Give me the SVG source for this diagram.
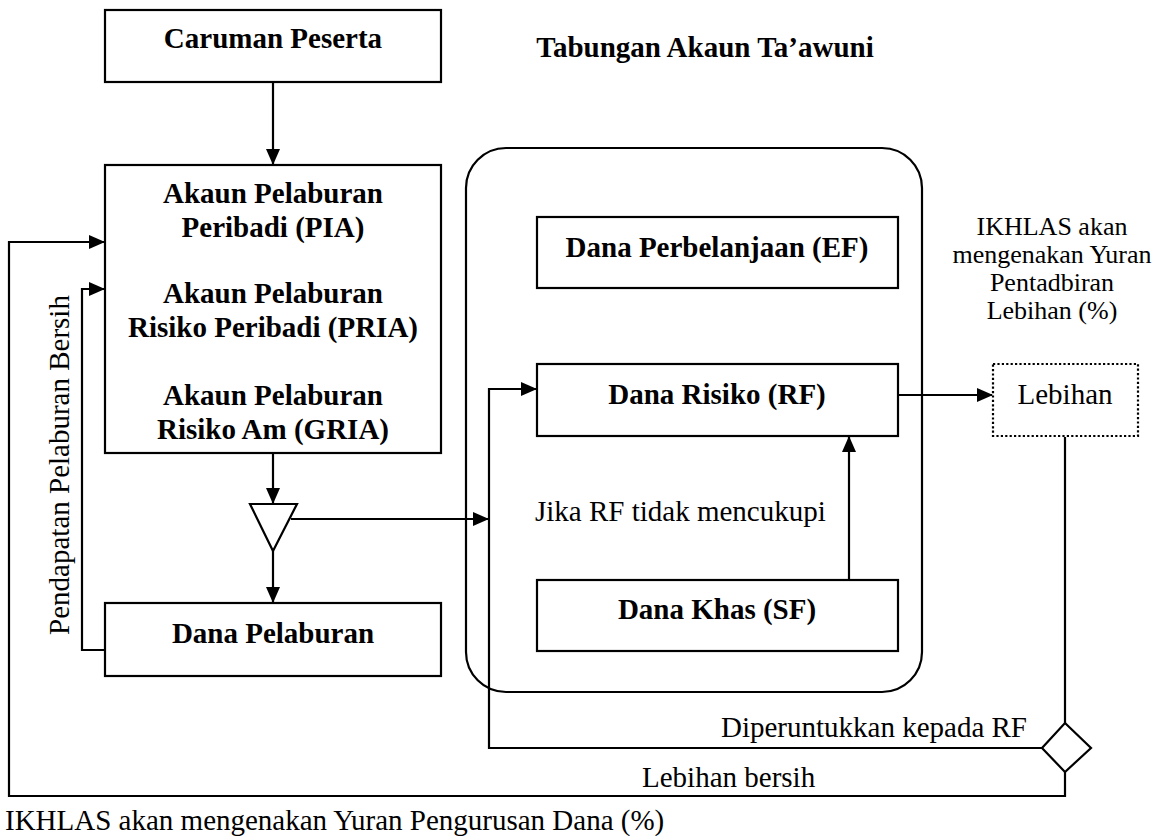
<svg xmlns="http://www.w3.org/2000/svg" width="1173" height="836" viewBox="0 0 1173 836">
<defs>
<style>
.box{fill:#fff;stroke:#000;stroke-width:2.2}
.frame{fill:none;stroke:#000;stroke-width:2.2}
.ln{fill:none;stroke:#000;stroke-width:2.2}
.arr{fill:none;stroke:#000;stroke-width:2.2;marker-end:url(#ah)}
text{font-family:"Liberation Serif","Times New Roman",Tinos,"DejaVu Serif",serif;fill:#000}
.b{font-weight:bold;font-size:29px;text-anchor:middle}
.r{font-size:29px}
.s{font-size:26px;text-anchor:middle}
</style>
<marker id="ah" markerWidth="16" markerHeight="14" refX="15" refY="7" orient="auto" markerUnits="userSpaceOnUse">
<path d="M0,0 L16,7 L0,14 Z" fill="#000"/>
</marker>
</defs>
<rect width="1173" height="836" fill="#fff"/>

<g id="container">
<rect class="frame" x="466" y="148" width="456" height="544" rx="40" ry="40"/>
</g>

<g id="connectors">
<line class="arr" x1="273" y1="82" x2="273" y2="164"/>
<line class="arr" x1="273" y1="453" x2="273" y2="503"/>
<line class="arr" x1="273" y1="551" x2="273" y2="602"/>
<line class="arr" x1="291" y1="519" x2="488" y2="519"/>
<polyline class="arr" points="105,650 82,650 82,289 104,289"/>
<polyline class="arr" points="1065,771 1065,796 9,796 9,242 104,242"/>
<polyline class="arr" points="1042,748 489,748 489,389 536,389"/>
<line class="arr" x1="849" y1="580" x2="849" y2="437"/>
<line class="arr" x1="898" y1="395" x2="992" y2="395"/>
<line class="ln" x1="1065" y1="437" x2="1065" y2="723"/>
</g>

<g id="caruman">
<rect class="box" x="105" y="10" width="336" height="72"/>
<text class="b" x="273" y="48">Caruman Peserta</text>
</g>

<g id="title">
<text class="b" x="705" y="57">Tabungan Akaun Ta’awuni</text>
</g>

<g id="akaun">
<rect class="box" x="105" y="165" width="336" height="288"/>
<text class="b" x="273" y="203">Akaun Pelaburan</text>
<text class="b" x="273" y="237">Peribadi (PIA)</text>
<text class="b" x="273" y="303">Akaun Pelaburan</text>
<text class="b" x="273" y="337">Risiko Peribadi (PRIA)</text>
<text class="b" x="273" y="405">Akaun Pelaburan</text>
<text class="b" x="273" y="439">Risiko Am (GRIA)</text>
</g>

<g id="splitter">
<polygon class="box" points="250,504 297,504 273,551"/>
</g>

<g id="dana-pelaburan">
<rect class="box" x="105" y="603" width="336" height="73"/>
<text class="b" x="273" y="643">Dana Pelaburan</text>
</g>

<g id="ef">
<rect class="box" x="537" y="217" width="361" height="71"/>
<text class="b" x="717" y="257">Dana Perbelanjaan (EF)</text>
</g>

<g id="rf">
<rect class="box" x="537" y="364" width="361" height="72"/>
<text class="b" x="717" y="404">Dana Risiko (RF)</text>
</g>

<g id="sf">
<rect class="box" x="537" y="580" width="361" height="71"/>
<text class="b" x="717" y="619">Dana Khas (SF)</text>
</g>

<g id="lebihan">
<rect x="993" y="364" width="145" height="72" fill="#fff" stroke="#000" stroke-width="2.2" stroke-dasharray="2.2,2.2"/>
<text class="r" x="1065" y="404" text-anchor="middle">Lebihan</text>
</g>

<g id="decision">
<polygon class="box" points="1065,723 1091,748 1065,772 1042,748"/>
</g>

<g id="labels">
<text class="r" x="535" y="521">Jika RF tidak mencukupi</text>
<text class="s" x="1052" y="235">IKHLAS akan</text>
<text class="s" x="1052" y="263">mengenakan Yuran</text>
<text class="s" x="1052" y="291">Pentadbiran</text>
<text class="s" x="1052" y="319">Lebihan (%)</text>
<text class="r" x="1027" y="737" text-anchor="end">Diperuntukkan kepada RF</text>
<text class="r" x="642" y="787">Lebihan bersih</text>
<text class="r" x="5" y="830">IKHLAS akan mengenakan Yuran Pengurusan Dana (%)</text>
<text class="r" x="69" y="465" text-anchor="middle" transform="rotate(-90 69 465)">Pendapatan Pelaburan Bersih</text>
</g>
</svg>
